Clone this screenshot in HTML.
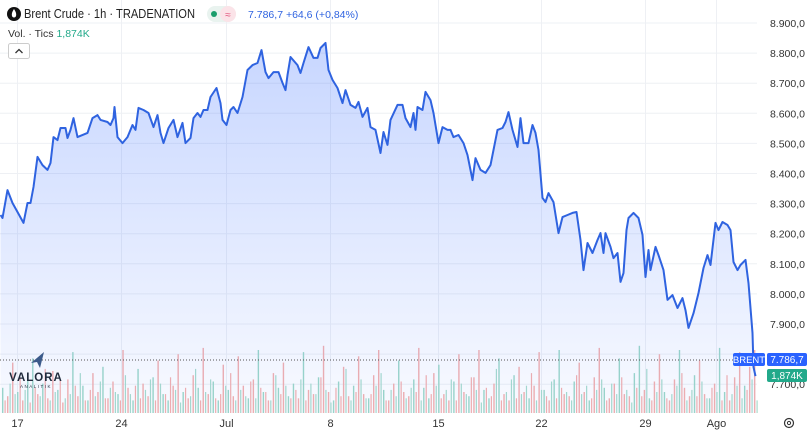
<!DOCTYPE html>
<html><head><meta charset="utf-8">
<style>
html,body{margin:0;padding:0;background:#fff;}
body{width:811px;height:430px;overflow:hidden;position:relative;font-family:"Liberation Sans",sans-serif;}
svg{position:absolute;left:0;top:0;}
</style></head>
<body>
<svg id="chart" width="811" height="430" xmlns="http://www.w3.org/2000/svg">
<defs>
<linearGradient id="fillg" x1="0" y1="0" x2="0" y2="1">
<stop offset="0" stop-color="#2962ff" stop-opacity="0.26"/>
<stop offset="1" stop-color="#2962ff" stop-opacity="0.03"/>
</linearGradient>
</defs>
<g id="grid"></g>
<g id="vol"></g>
<path id="area" fill="url(#fillg)"/>
<path id="line" fill="none" stroke="#2f63e0" stroke-width="2" stroke-linejoin="round"/>
<line x1="0" x2="757" y1="360" y2="360" stroke="#555" stroke-width="1" stroke-dasharray="1,2"/>
<g id="yaxis" font-size="10.5" fill="#333"></g>
<g id="xaxis" font-size="11" fill="#333"></g>
<rect x="733" y="353" width="32" height="13" rx="2" fill="#2962ff"/>
<text x="749" y="363" font-size="9.5" fill="#fff" text-anchor="middle">BRENT</text>
<rect x="767" y="353" width="40" height="13" rx="2" fill="#2962ff"/>
<text x="787" y="363" font-size="10" fill="#fff" text-anchor="middle">7.786,7</text>
<rect x="767" y="369" width="40" height="13" rx="2" fill="#22a98a"/>
<text x="787" y="379" font-size="10" fill="#fff" text-anchor="middle">1,874K</text>
<g>
<circle cx="789" cy="423" r="4.5" fill="none" stroke="#333" stroke-width="1.2"/>
<circle cx="789" cy="423" r="1.6" fill="none" stroke="#333" stroke-width="1"/>
</g>
<circle cx="14" cy="14" r="7" fill="#111"/>
<path d="M14 9 C12 12 11.5 14 12 16 C12.5 18 15.5 18 16 16 C16.5 14 16 12 14 9Z" fill="#fff"/>
<text x="24" y="18" font-size="12.5" fill="#222" textLength="171" lengthAdjust="spacingAndGlyphs">Brent Crude · 1h · TRADENATION</text>
<rect x="207" y="6" width="29" height="16" rx="8" fill="#e9f3ef"/>
<rect x="220" y="6" width="16" height="16" rx="8" fill="#fbe3e8"/>
<circle cx="214" cy="14" r="3" fill="#1a9e6c"/>
<text x="228" y="18" font-size="10" fill="#e0507a" text-anchor="middle">≈</text>
<text x="248" y="18" font-size="10.5" fill="#2f63e0">7.786,7 +64,6 (+0,84%)</text>
<text x="8" y="37" font-size="10.5" fill="#333">Vol. · Tics <tspan fill="#22a98a">1,874K</tspan></text>
<rect x="8.5" y="43.5" width="21" height="15" rx="2" fill="#fff" stroke="#ccc"/>
<path d="M15.5 53 L19 49.5 L22.5 53" fill="none" stroke="#333" stroke-width="1.3"/>
<g>
<path d="M31 363 L44 352 L40 368 L37 362 Z" fill="#3b5a8a"/>
<text x="36" y="381" font-size="11.5" font-weight="bold" fill="#1f2a3c" text-anchor="middle" letter-spacing="1">VALORA</text>
<text x="36" y="388" font-size="4.5" fill="#1f2a3c" text-anchor="middle" letter-spacing="1.5">ANALITIK</text>
</g>
</svg>
<script>
const bars=[0,2,7,12,17,23,27,30,33,37,42,47,50,53,57,60,65,67,70,73,77,87,92,97,100,107,110,113,114,117,122,127,132,135,138,143,148,153,157,160,163,168,173,177,182,185,190,193,197,200,203,207,210,216,220,222,226,230,233,237,242,247,252,257,261,265,268,273,278,282,285,287,290,297,300,303,308,313,317,320,325,328,332,337,342,345,350,355,358,362,367,370,375,380,383,387,390,397,402,405,410,413,415,417,422,425,430,433,438,442,447,450,453,458,463,467,472,475,480,485,490,493,497,502,505,508,512,517,520,523,528,532,535,538,542,545,548,553,558,562,567,572,576,580,583,587,592,597,600,603,605,610,613,617,620,623,626,628,633,638,642,645,648,650,655,658,663,667,672,677,682,685,688,693,698,703,707,710,715,718,722,727,730,733,737,740,745,748,752,753,755];
const prices=[8262,8252,8345,8302,8272,8236,8302,8302,8355,8455,8428,8412,8435,8521,8511,8551,8551,8518,8545,8584,8521,8535,8584,8594,8578,8571,8561,8584,8621,8521,8501,8521,8561,8545,8618,8611,8601,8554,8594,8535,8501,8551,8578,8521,8568,8501,8518,8584,8601,8588,8611,8611,8654,8684,8634,8578,8561,8611,8621,8601,8654,8744,8760,8767,8810,8737,8717,8737,8737,8701,8677,8727,8787,8760,8734,8767,8820,8784,8784,8817,8834,8744,8711,8684,8634,8677,8628,8618,8638,8588,8618,8554,8545,8468,8538,8495,8578,8628,8628,8584,8554,8601,8545,8621,8611,8671,8644,8601,8501,8554,8545,8545,8521,8528,8501,8461,8378,8451,8412,8402,8428,8478,8545,8551,8571,8604,8545,8488,8584,8501,8501,8561,8535,8478,8319,8305,8335,8305,8202,8255,8262,8269,8272,8179,8079,8169,8136,8179,8202,8136,8202,8156,8119,8136,8040,8069,8212,8252,8269,8252,8196,8056,8146,8079,8156,8129,8079,7980,7996,7953,7986,7946,7887,7936,8003,8086,8129,8096,8236,8212,8239,8229,8212,8106,8079,8096,8113,8036,7870,7757,7727];
const yTicks=[8900,8800,8700,8600,8500,8400,8300,8200,8100,8000,7900,7800,7700];
const yTickLabels=["8.900,0","8.800,0","8.700,0","8.600,0","8.500,0","8.400,0","8.300,0","8.200,0","8.100,0","8.000,0","7.900,0","","7.700,0"];
const xTickBars=[17,121,226,330,438,541,645,716];
const xTickLabels=["17","24","Jul","8","15","22","29","Ago"];
const volumes=[1.2,0.8,2.4,1.0,0.6,1.8,2.6,0.9,1.4,0.7,2.0,1.1,0.5,1.6,2.9,0.8,1.3,0.6,1.9,1.0,2.2,0.7,1.5,0.9,3.0,1.2,0.6,2.1,1.4,0.8,1.7,2.5,0.9,0.6,1.3,2.8,1.0,0.7,1.8,1.2,3.1,0.9,1.5,0.6,2.3,1.1,0.8,2.7,1.3,0.7,1.6,3.0,1.0,0.6,1.9,1.2,2.4,0.8,1.4,0.7,2.9,1.1,0.9,1.7,3.2,1.0,0.6,1.5,2.2,0.8,1.3,2.7,0.9,0.7,1.8,3.0,1.1,0.6,1.4,2.5,1.0,0.8,1.6,3.1,1.2,0.7,1.9,2.3,0.9,0.6,1.5,2.8,1.0,0.8,1.7,3.0,1.1,0.7,1.4,2.6,0.9,0.6,1.8,2.2,1.0,0.7,1.3,2.9,1.1,0.6,1.6,3.0,0.9,0.8,1.5,2.4,1.0,0.6,1.7,3.1,1.2,0.7,1.4,2.6,0.9,0.8,1.9,3.2,1.1,0.7,1.5,2.8,1.0,0.6,1.6,3.0,1.2,0.8,1.8,2.5,0.9,0.7,1.4,3.1,1.0,0.6,1.7,2.9,1.3,2.2,3.0];
const volumes2=[0.6,1.4,0.9,1.7,1.1,0.5,1.2,0.8,2.1,0.6,1.0,1.6,0.7,0.9,1.3,1.9,0.6,1.1,0.8,1.5,0.7,1.2,1.0,0.6,1.8,0.9,1.3,0.7,1.1,1.6];
const volDir="udduduududdudduduudduddudduudduduudduddudduududdduduudduduududdudduudduddudduddudduduududduddudduududduddudduduudduddudduddudduududdudduddudduduudddudddd";

const ns="http://www.w3.org/2000/svg";
const plotR=757, barW=1.0;
function xS(b){return b*barW+0.5;}
function yS(v){return 23+(8900-v)*0.301;}
function vS(k){return 413-k*21;}
const grid=document.getElementById('grid');
yTicks.forEach((t,i)=>{
  const l=document.createElementNS(ns,'line');
  
  
  l.setAttribute('x1',0);l.setAttribute('x2',plotR);l.setAttribute('y1',yS(t));l.setAttribute('y2',yS(t));
  l.setAttribute('stroke','#eef0f4');grid.appendChild(l);
  const tx=document.createElementNS(ns,'text');
  
  
  tx.setAttribute('x',805);tx.setAttribute('y',yS(t)+4);tx.setAttribute('text-anchor','end');
  tx.textContent=yTickLabels[i];document.getElementById('yaxis').appendChild(tx);
});
xTickBars.forEach((b,i)=>{
  const l=document.createElementNS(ns,'line');
  
  
  l.setAttribute('x1',xS(b));l.setAttribute('x2',xS(b));l.setAttribute('y1',0);l.setAttribute('y2',413);
  l.setAttribute('stroke','#eef0f4');grid.appendChild(l);
  const tx=document.createElementNS(ns,'text');
  
  
  tx.setAttribute('x',xS(b));tx.setAttribute('y',427);tx.setAttribute('text-anchor','middle');
  tx.textContent=xTickLabels[i];document.getElementById('xaxis').appendChild(tx);
});
const vg=document.getElementById('vol');
const vstep=plotR/volumes.length;
volumes.forEach((k,i)=>{
  const x=2+i*vstep;
  const up=volDir[i%volDir.length]==='u';
  const r=document.createElementNS(ns,'rect');
  
  
  r.setAttribute('x',x);r.setAttribute('width',1.4);
  r.setAttribute('y',vS(k));r.setAttribute('height',413-vS(k));
  r.setAttribute('fill',up?'#9dd8c8':'#f4b0ae');
  vg.appendChild(r);
  const k2=volumes2[i%volumes2.length];
  const r2=document.createElementNS(ns,'rect');
  
  
  r2.setAttribute('x',x+2.5);r2.setAttribute('width',1.2);
  r2.setAttribute('y',vS(k2));r2.setAttribute('height',413-vS(k2));
  r2.setAttribute('fill',up?'#f4b0ae':'#a8dccd');
  vg.appendChild(r2);
});
let d='';
bars.forEach((b,i)=>{d+=(i?'L':'M')+xS(b).toFixed(1)+' '+yS(prices[i]).toFixed(1);});
document.getElementById('line').setAttribute('d',d);
document.getElementById('area').setAttribute('d',d+'L'+xS(bars[bars.length-1])+' 413L'+xS(bars[0])+' 413Z');
</script>
</body></html>
